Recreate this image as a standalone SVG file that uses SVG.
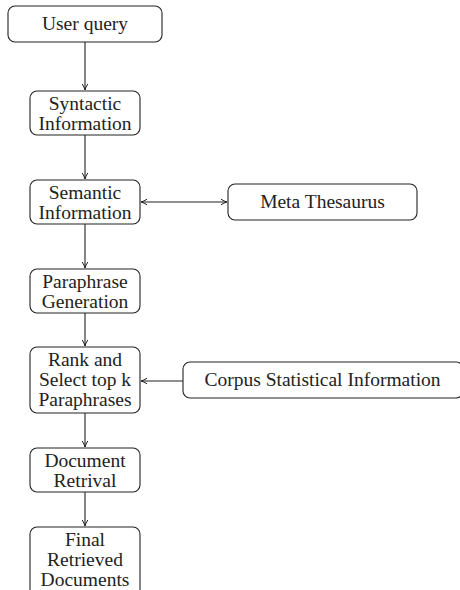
<svg xmlns="http://www.w3.org/2000/svg" width="460" height="590" viewBox="0 0 460 590">
<style>
.box{fill:#fff;stroke:#222;stroke-width:1.1}
.c{stroke:#222;stroke-width:1.1;fill:none}
</style>
<defs>
<marker id="ah" markerWidth="8" markerHeight="8" refX="7" refY="4" orient="auto-start-reverse" markerUnits="userSpaceOnUse">
<path d="M1,1.2 Q4,3.2 7,4 Q4,4.8 1,6.8" fill="none" stroke="#222" stroke-width="1"/>
</marker>
</defs>
<g id="connectors">
<line class="c" x1="85" y1="42" x2="85" y2="90" marker-end="url(#ah)"/>
<line class="c" x1="85" y1="135" x2="85" y2="179" marker-end="url(#ah)"/>
<line class="c" x1="141" y1="202" x2="227" y2="202" marker-start="url(#ah)" marker-end="url(#ah)"/>
<line class="c" x1="85" y1="224" x2="85" y2="268" marker-end="url(#ah)"/>
<line class="c" x1="85" y1="313" x2="85" y2="346" marker-end="url(#ah)"/>
<line class="c" x1="183" y1="381" x2="141" y2="381" marker-end="url(#ah)"/>
<line class="c" x1="85" y1="413" x2="85" y2="447" marker-end="url(#ah)"/>
<line class="c" x1="85" y1="492" x2="85" y2="526" marker-end="url(#ah)"/>
</g>
<g font-family="'Liberation Serif', serif" font-size="19.5" fill="#222" text-anchor="middle">
<g id="user-query">
<rect class="box" x="8" y="6" width="154" height="36" rx="7"/>
<text x="85" y="30">User query</text>
</g>
<g id="syntactic">
<rect class="box" x="30" y="91" width="110" height="44" rx="7"/>
<text x="85" y="109.5">Syntactic</text>
<text x="85" y="129.5">Information</text>
</g>
<g id="semantic">
<rect class="box" x="30" y="180" width="110" height="44" rx="7"/>
<text x="85" y="198.5">Semantic</text>
<text x="85" y="218.5">Information</text>
</g>
<g id="meta-thesaurus">
<rect class="box" x="228" y="184" width="189" height="36" rx="7"/>
<text x="322.5" y="208">Meta Thesaurus</text>
</g>
<g id="paraphrase-generation">
<rect class="box" x="30" y="269" width="110" height="44" rx="7"/>
<text x="85" y="287.5">Paraphrase</text>
<text x="85" y="307.5">Generation</text>
</g>
<g id="rank-select">
<rect class="box" x="30" y="347" width="110" height="66" rx="7"/>
<text x="85" y="366">Rank and</text>
<text x="85" y="386">Select top k</text>
<text x="85" y="405.5">Paraphrases</text>
</g>
<g id="corpus">
<rect class="box" x="183" y="362" width="280" height="36" rx="7"/>
<text x="322.5" y="386">Corpus Statistical Information</text>
</g>
<g id="document-retrival">
<rect class="box" x="30" y="448" width="110" height="44" rx="7"/>
<text x="85" y="466.5">Document</text>
<text x="85" y="486.5">Retrival</text>
</g>
<g id="final-documents">
<rect class="box" x="30" y="527" width="110" height="70" rx="7"/>
<text x="85" y="546">Final</text>
<text x="85" y="566">Retrieved</text>
<text x="85" y="585.5">Documents</text>
</g>
</g>
</svg>
